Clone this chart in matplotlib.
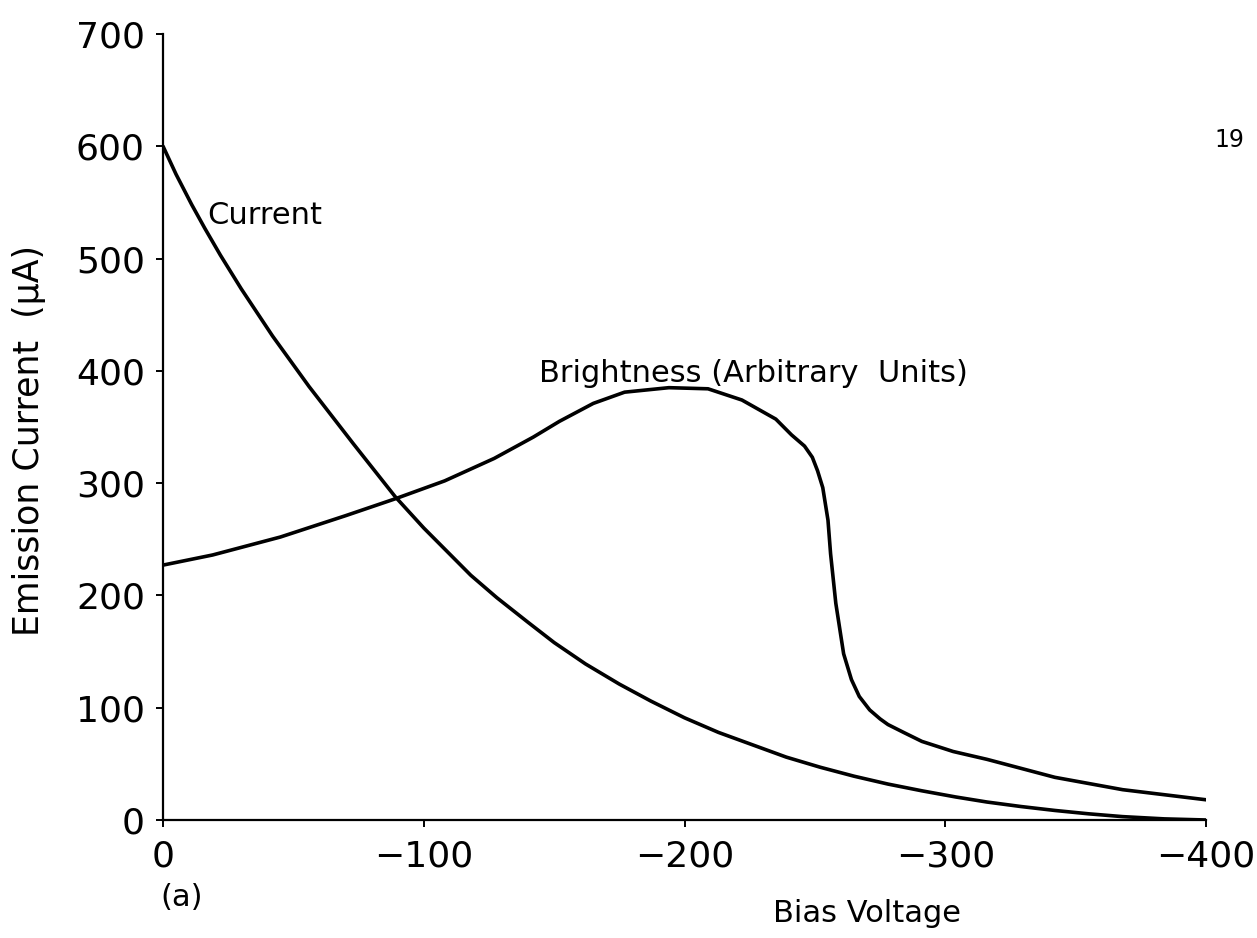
import numpy as np
import matplotlib
matplotlib.use("Agg")
import matplotlib.pyplot as plt

# bias voltage (V) and emission current (uA)
cur_v = [0, -5, -11, -16, -22, -30, -42, -56, -73, -89, -100, -109, -118,
         -128, -140, -150, -162, -175, -187, -200, -213, -226, -239, -252,
         -265, -278, -291, -304, -316, -329, -342, -355, -368, -384, -400]
cur_i = [600, 575, 548, 527, 503, 473, 431, 386, 335, 288, 260, 239, 218,
         198, 176, 158, 139, 121, 106, 91, 78, 67, 56, 47,
         39, 32, 26, 20.5, 16, 12, 8.5, 5.5, 3, 1, 0]

# brightness (arbitrary units) on the same axes
bri_v = [0, -19, -45, -70, -89, -108, -127, -142, -152, -165, -177, -194,
         -209, -222, -235, -241, -246, -249, -251, -253, -255, -256, -258,
         -261, -264, -267, -271, -275, -278, -284, -291, -303, -316, -342,
         -368, -400]
bri_i = [227, 236, 252, 271, 286, 302, 322, 341, 355, 371, 381, 385,
         384, 374, 357, 343, 333, 323, 311, 296, 267, 237, 193,
         148, 125, 110, 98, 90, 85, 78, 70, 61, 54, 38,
         27, 18]

x_ticks = [0, -100, -200, -300, -400]
y_ticks = [0, 100, 200, 300, 400, 500, 600, 700]

plt.rcParams['font.family'] = ['DejaVu Sans']

fig = plt.figure(figsize=(12.57, 9.38), dpi=100)
ax = fig.add_axes([0.1297, 0.1258, 0.8298, 0.838])

ax.plot(cur_v, cur_i, color='black', lw=2.6, solid_joinstyle='round',
        solid_capstyle='round')
ax.plot(bri_v, bri_i, color='black', lw=2.6, solid_joinstyle='round',
        solid_capstyle='round')

ax.set_xlim(0, -400)
ax.set_ylim(0, 700)
ax.set_xticks(x_ticks)
ax.set_yticks(y_ticks)
ax.set_xticklabels([str(v) if v == 0 else '\u2212' + str(-v) for v in x_ticks])

for s in ['top', 'right']:
    ax.spines[s].set_visible(False)
for s in ['left', 'bottom']:
    ax.spines[s].set_linewidth(1.6)
ax.tick_params(axis='both', direction='out', length=5, width=1.4,
               labelsize=26)
ax.tick_params(axis='y', pad=8)
ax.tick_params(axis='x', pad=9)

ax.set_ylabel('Emission Current  (\u03bcA)', fontsize=25)
ax.yaxis.set_label_coords(-0.112, 0.483)
ax.set_xlabel('Bias Voltage', fontsize=22)
ax.xaxis.set_label_coords(0.675, -0.1)

ax.text(-17, 538, 'Current', fontsize=22, ha='left', va='center')
ax.text(-144, 398, 'Brightness (Arbitrary  Units)', fontsize=22,
        ha='left', va='center')
ax.text(0.018, -0.098, '(a)', transform=ax.transAxes, fontsize=22,
        ha='center', va='center')
fig.text(0.978, 0.851, '19', fontsize=17, ha='center', va='center')

fig.savefig('out.png', dpi=100, facecolor='white')
